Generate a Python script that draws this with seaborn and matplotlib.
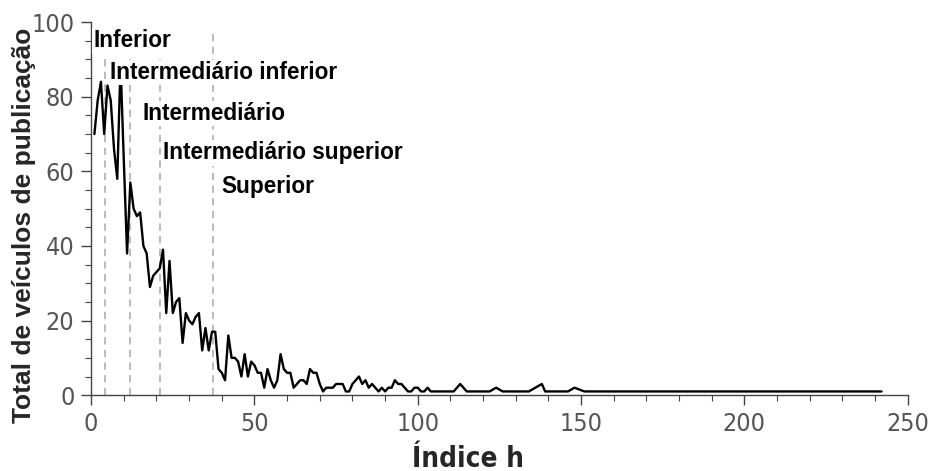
import matplotlib
matplotlib.use("Agg")
import matplotlib.pyplot as plt
from matplotlib.ticker import MultipleLocator
from matplotlib import font_manager
import pandas as pd
import seaborn as sns

# h-index of each publication venue group and the number of venues with that h
h_index = [
    1, 2, 3, 4, 5, 6, 7, 8, 9, 10,
    11, 12, 13, 14, 15, 16, 17, 18, 19, 20,
    21, 22, 23, 24, 25, 26, 27, 28, 29, 30,
    31, 32, 33, 34, 35, 36, 37, 38, 39, 40,
    41, 42, 43, 44, 45, 46, 47, 48, 49, 50,
    51, 52, 53, 54, 55, 56, 57, 58, 59, 60,
    61, 62, 63, 64, 65, 66, 67, 68, 69, 70,
    71, 72, 73, 74, 75, 76, 77, 78, 79, 80,
    81, 82, 83, 84, 85, 86, 87, 88, 89, 90,
    91, 92, 93, 94, 95, 96, 97, 98, 99, 100,
    101, 102, 103, 104, 111, 113, 115, 122, 124, 126,
    134, 136, 138, 139, 146, 148, 151, 242,
]
total_veiculos = [
    70, 79, 84, 70, 83, 79, 66, 58, 89, 63,
    38, 57, 50, 48, 49, 40, 38, 29, 32, 33,
    34, 39, 22, 36, 22, 25, 26, 14, 22, 20,
    19, 21, 22, 12, 18, 12, 17, 17, 7, 6,
    4, 16, 10, 10, 9, 5, 11, 5, 9, 8,
    6, 6, 2, 7, 4, 2, 4, 11, 7, 6,
    6, 2, 3, 4, 4, 3, 7, 6, 6, 3,
    1, 2, 2, 2, 3, 3, 3, 1, 1, 3,
    4, 5, 3, 4, 2, 3, 2, 1, 2, 1,
    2, 2, 4, 3, 3, 2, 1, 1, 2, 2,
    1, 1, 2, 1, 1, 3, 1, 1, 2, 1,
    1, 2, 3, 1, 1, 2, 1, 1,
]

# Class boundaries on the h-index axis and the class names
limites = [4.3, 11.9, 21.1, 37.3]
classes = ["Inferior", "Intermediário inferior", "Intermediário",
           "Intermediário superior", "Superior"]
classe_x = [0.6, 5.9, 15.6, 22.0, 40.0]
classe_y = [95.0, 86.5, 75.5, 65.0, 56.0]

x_ticks = [0, 50, 100, 150, 200, 250]
y_ticks = [0, 20, 40, 60, 80, 100]

sns.set_theme(style="white")
plt.rcParams["font.family"] = ["Liberation Sans", "DejaVu Sans"]

installed = {f.name for f in font_manager.fontManager.ttflist}
narrow = "Liberation Sans Narrow" if "Liberation Sans Narrow" in installed else "DejaVu Sans"

df = pd.DataFrame({"h": h_index, "total": total_veiculos})

fig = plt.figure(figsize=(9.3, 4.71), dpi=100)
ax = fig.add_axes([0.098, 0.161, 0.878, 0.792])

for xv in limites:
    ax.plot([xv, xv], [0, 97], color="#b5b5b5", lw=1.3,
            dashes=(4, 3), zorder=1)

sns.lineplot(data=df, x="h", y="total", ax=ax, color="black",
             linewidth=1.7, zorder=3)

for txt, xv, yv in zip(classes, classe_x, classe_y):
    ax.text(xv, yv, txt, fontsize=16.3, fontweight="bold", color="black",
            va="center", ha="left", zorder=4,
            bbox=dict(facecolor="white", edgecolor="none", pad=1.0))

ax.set_xlim(0, 250)
ax.set_ylim(0, 100)
ax.set_xticks(x_ticks)
ax.set_yticks(y_ticks)
ax.xaxis.set_minor_locator(MultipleLocator(10))
ax.yaxis.set_minor_locator(MultipleLocator(5))

for s in ["top", "right"]:
    ax.spines[s].set_visible(False)
for s in ["left", "bottom"]:
    ax.spines[s].set_color("#444444")
    ax.spines[s].set_linewidth(1.0)

ax.tick_params(axis="both", which="major", direction="out", length=7,
               width=1.0, color="#444444", labelcolor="#555555",
               labelsize=18, bottom=True, left=True, pad=5)
ax.tick_params(axis="both", which="minor", direction="out", length=4,
               width=0.8, color="#444444", bottom=True, left=True)
for lab in ax.get_xticklabels() + ax.get_yticklabels():
    lab.set_fontfamily(["DejaVu Sans"])
    lab.set_fontstretch("condensed")

xl = ax.set_xlabel("Índice h", fontsize=23.5, fontweight="bold")
xl.set_fontfamily([narrow])
if narrow == "DejaVu Sans":
    xl.set_fontstretch("condensed")
    xl.set_fontsize(20)
ax.xaxis.set_label_coords(0.462, -0.133)

ax.set_ylabel("Total de veículos de publicação", fontsize=19,
              fontweight="bold")
ax.yaxis.set_label_coords(-0.067, 0.455)

fig.savefig("out.png", dpi=100)
